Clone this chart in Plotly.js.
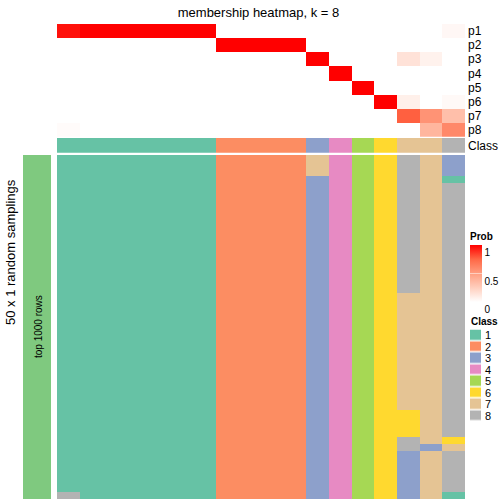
<!DOCTYPE html>
<html>
<head>
<meta charset="utf-8">
<script src="https://cdn.plot.ly/plotly-3.0.1.min.js"></script>
<style>html,body{margin:0;padding:0;background:#fff;}#chart{width:504px;height:504px;}</style>
</head>
<body>
<div id="chart"></div>
<script>
// ---- data ----
const sampleIds = ['s1','s2','s3','s4','s5','s6','s7','s8','s9','s10','s11','s12','s13','s14','s15','s16','s17','s18'];
const probRows = ['p1','p2','p3','p4','p5','p6','p7','p8'];
const p1 = [0.96,1,1,1,1,1,1,0,0,0,0,0,0,0,0,0,0,0.04];
const p2 = [0,0,0,0,0,0,0,1,1,1,1,0,0,0,0,0,0,0];
const p3 = [0,0,0,0,0,0,0,0,0,0,0,1,0,0,0,0.15,0.07,0];
const p4 = [0,0,0,0,0,0,0,0,0,0,0,0,1,0,0,0,0,0];
const p5 = [0,0,0,0,0,0,0,0,0,0,0,0,0,1,0,0,0,0];
const p6 = [0,0,0,0,0,0,0,0,0,0,0,0,0,0,1,0.08,0,0.03];
const p7 = [0,0,0,0,0,0,0,0,0,0,0,0,0,0,0,0.77,0.55,0.33];
const p8 = [0.02,0,0,0,0,0,0,0,0,0,0,0,0,0,0,0,0.38,0.6];
const sampleClass = [1,1,1,1,1,1,1,2,2,2,2,3,4,5,6,7,7,8];
const classLabels = ['1','2','3','4','5','6','7','8'];
const classColors = ['#66C2A5','#FC8D62','#8DA0CB','#E78AC3','#A6D854','#FFD92F','#E5C494','#B3B3B3'];
const probTicks = [0, 0.5, 1];
// 50 random samplings (rows) x 18 samples (columns), class labels
const samplings = [
[1,1,1,1,1,1,1,2,2,2,2,7,4,5,6,8,7,3],
[1,1,1,1,1,1,1,2,2,2,2,7,4,5,6,8,7,3],
[1,1,1,1,1,1,1,2,2,2,2,7,4,5,6,8,7,3],
[1,1,1,1,1,1,1,2,2,2,2,3,4,5,6,8,7,1],
[1,1,1,1,1,1,1,2,2,2,2,3,4,5,6,8,7,8],
[1,1,1,1,1,1,1,2,2,2,2,3,4,5,6,8,7,8],
[1,1,1,1,1,1,1,2,2,2,2,3,4,5,6,8,7,8],
[1,1,1,1,1,1,1,2,2,2,2,3,4,5,6,8,7,8],
[1,1,1,1,1,1,1,2,2,2,2,3,4,5,6,8,7,8],
[1,1,1,1,1,1,1,2,2,2,2,3,4,5,6,8,7,8],
[1,1,1,1,1,1,1,2,2,2,2,3,4,5,6,8,7,8],
[1,1,1,1,1,1,1,2,2,2,2,3,4,5,6,8,7,8],
[1,1,1,1,1,1,1,2,2,2,2,3,4,5,6,8,7,8],
[1,1,1,1,1,1,1,2,2,2,2,3,4,5,6,8,7,8],
[1,1,1,1,1,1,1,2,2,2,2,3,4,5,6,8,7,8],
[1,1,1,1,1,1,1,2,2,2,2,3,4,5,6,8,7,8],
[1,1,1,1,1,1,1,2,2,2,2,3,4,5,6,8,7,8],
[1,1,1,1,1,1,1,2,2,2,2,3,4,5,6,8,7,8],
[1,1,1,1,1,1,1,2,2,2,2,3,4,5,6,8,7,8],
[1,1,1,1,1,1,1,2,2,2,2,3,4,5,6,8,7,8],
[1,1,1,1,1,1,1,2,2,2,2,3,4,5,6,7,7,8],
[1,1,1,1,1,1,1,2,2,2,2,3,4,5,6,7,7,8],
[1,1,1,1,1,1,1,2,2,2,2,3,4,5,6,7,7,8],
[1,1,1,1,1,1,1,2,2,2,2,3,4,5,6,7,7,8],
[1,1,1,1,1,1,1,2,2,2,2,3,4,5,6,7,7,8],
[1,1,1,1,1,1,1,2,2,2,2,3,4,5,6,7,7,8],
[1,1,1,1,1,1,1,2,2,2,2,3,4,5,6,7,7,8],
[1,1,1,1,1,1,1,2,2,2,2,3,4,5,6,7,7,8],
[1,1,1,1,1,1,1,2,2,2,2,3,4,5,6,7,7,8],
[1,1,1,1,1,1,1,2,2,2,2,3,4,5,6,7,7,8],
[1,1,1,1,1,1,1,2,2,2,2,3,4,5,6,7,7,8],
[1,1,1,1,1,1,1,2,2,2,2,3,4,5,6,7,7,8],
[1,1,1,1,1,1,1,2,2,2,2,3,4,5,6,7,7,8],
[1,1,1,1,1,1,1,2,2,2,2,3,4,5,6,7,7,8],
[1,1,1,1,1,1,1,2,2,2,2,3,4,5,6,7,7,8],
[1,1,1,1,1,1,1,2,2,2,2,3,4,5,6,7,7,8],
[1,1,1,1,1,1,1,2,2,2,2,3,4,5,6,7,7,8],
[1,1,1,1,1,1,1,2,2,2,2,3,4,5,6,6,7,8],
[1,1,1,1,1,1,1,2,2,2,2,3,4,5,6,6,7,8],
[1,1,1,1,1,1,1,2,2,2,2,3,4,5,6,6,7,8],
[1,1,1,1,1,1,1,2,2,2,2,3,4,5,6,6,7,8],
[1,1,1,1,1,1,1,2,2,2,2,3,4,5,6,8,7,6],
[1,1,1,1,1,1,1,2,2,2,2,3,4,5,6,8,3,7],
[1,1,1,1,1,1,1,2,2,2,2,3,4,5,6,3,7,8],
[1,1,1,1,1,1,1,2,2,2,2,3,4,5,6,3,7,8],
[1,1,1,1,1,1,1,2,2,2,2,3,4,5,6,3,7,8],
[1,1,1,1,1,1,1,2,2,2,2,3,4,5,6,3,7,8],
[1,1,1,1,1,1,1,2,2,2,2,3,4,5,6,3,7,8],
[1,1,1,1,1,1,1,2,2,2,2,3,4,5,6,3,7,8],
[8,1,1,1,1,1,1,2,2,2,2,3,4,5,6,3,7,1]
];
const samplingIds = samplings.map((_, i) => i + 1);

// ---- styles ----
const W = 504, H = 504;
const px = v => v / W;
const py = v => 1 - v / H;
const FONT = 'Liberation Sans, Arial, Helvetica, sans-serif';
const probScale = [[0,'rgb(255,255,255)'],[0.25,'rgb(255,207,190)'],[0.5,'rgb(255,158,129)'],[0.75,'rgb(255,104,70)'],[1,'rgb(255,0,0)']];
const n = classColors.length;
const classScale = [];
classColors.forEach((c, i) => { classScale.push([i / n, c]); classScale.push([(i + 1) / n, c]); });

const traces = [
  {type:'heatmap', x: sampleIds, y: probRows, z: [p1,p2,p3,p4,p5,p6,p7,p8],
   xaxis:'x', yaxis:'y', colorscale: probScale, zmin:0, zmax:1, hoverinfo:'skip',
   colorbar:{x: px(470), xanchor:'left', xpad:0, ypad:0, y: py(302), yanchor:'bottom',
     thickness:12, thicknessmode:'pixels', len:73, lenmode:'pixels', outlinewidth:0,
     tickvals: probTicks, ticktext: probTicks.map(String), ticks:'inside', ticklen:12, tickcolor:'rgba(255,255,255,0.5)',
     ticklabelposition:'outside bottom',
     tickfont:{size:10, family:FONT, color:'#000'},
     title:{text:'Prob', side:'top', font:{size:10, family:FONT, weight:'bold', color:'#000'}}}},
  {type:'heatmap', x: sampleIds, y: ['Class'], z: [sampleClass],
   xaxis:'x', yaxis:'y2', colorscale: classScale, zmin:0.5, zmax:n + 0.5, showscale:false, hoverinfo:'skip'},
  {type:'heatmap', x: sampleIds, y: samplingIds, z: samplings,
   xaxis:'x', yaxis:'y3', colorscale: classScale, zmin:0.5, zmax:n + 0.5, showscale:false, hoverinfo:'skip'},
  {type:'heatmap', x: ['c'], y: classLabels, z: classLabels.map(l => [Number(l)]),
   xaxis:'x4', yaxis:'y4', colorscale: classScale, zmin:0.5, zmax:n + 0.5, showscale:false, ygap:1.5, hoverinfo:'skip'}
];

const hiddenX = {showgrid:false, zeroline:false, showticklabels:false, ticks:'', showline:false};
const layout = {
  width: W, height: H, margin:{l:0,r:0,t:0,b:0, autoexpand:false}, paper_bgcolor:'#fff', plot_bgcolor:'rgba(0,0,0,0)',
  showlegend:false, font:{family:FONT, color:'#000'},
  title:{text:'membership heatmap, k = 8', x: px(258.5), xanchor:'center', y: py(12), yanchor:'middle', font:{size:13, family:FONT, color:'#000'}},
  xaxis: Object.assign({domain:[px(57), px(465)], anchor:'y3', type:'category'}, hiddenX),
  yaxis: {domain:[py(136.7), py(24)], anchor:'x', side:'right', type:'category', autorange:'reversed',
          showgrid:false, zeroline:false, ticks:'', ticklen:0, tickfont:{size:12}, ticklabelstandoff:2},
  yaxis2: {domain:[py(152.7), py(138)], anchor:'x', side:'right', type:'category',
          showgrid:false, zeroline:false, ticks:'', ticklen:0, tickfont:{size:12}, ticklabelstandoff:2},
  yaxis3: {domain:[py(499), py(155)], anchor:'x', autorange:'reversed', showgrid:false, zeroline:false, showticklabels:false, ticks:''},
  xaxis4: Object.assign({domain:[px(470), px(481)], anchor:'y4'}, hiddenX),
  yaxis4: {domain:[py(421.5), py(329.5)], anchor:'x4', side:'right', type:'category', autorange:'reversed',
          tickmode:'array', tickvals: classLabels, ticktext: classLabels,
          showgrid:false, zeroline:false, ticks:'', ticklen:0, tickfont:{size:11}, ticklabelstandoff:3},
  shapes: [
    {type:'rect', xref:'paper', yref:'paper', x0: px(23), x1: px(51), y0: py(499), y1: py(155), fillcolor:'#7FC97F', line:{width:0}, layer:'below'}
  ],
  annotations: [
    {text:'top 1000 rows', xref:'paper', yref:'paper', x: px(38), y: py(327), textangle:-90, showarrow:false, font:{size:10}, xanchor:'center', yanchor:'middle'},
    {text:'50 x 1 random samplings', xref:'paper', yref:'paper', x: px(10), y: py(252), textangle:-90, showarrow:false, font:{size:13}, xanchor:'center', yanchor:'middle'},
    {text:'Class', xref:'paper', yref:'paper', x: px(469), y: py(321), showarrow:false, font:{size:10, weight:'bold'}, xanchor:'left', yanchor:'middle'}
  ]
};

Plotly.newPlot('chart', traces, layout, {displayModeBar:false, staticPlot:true});
</script>
</body>
</html>
